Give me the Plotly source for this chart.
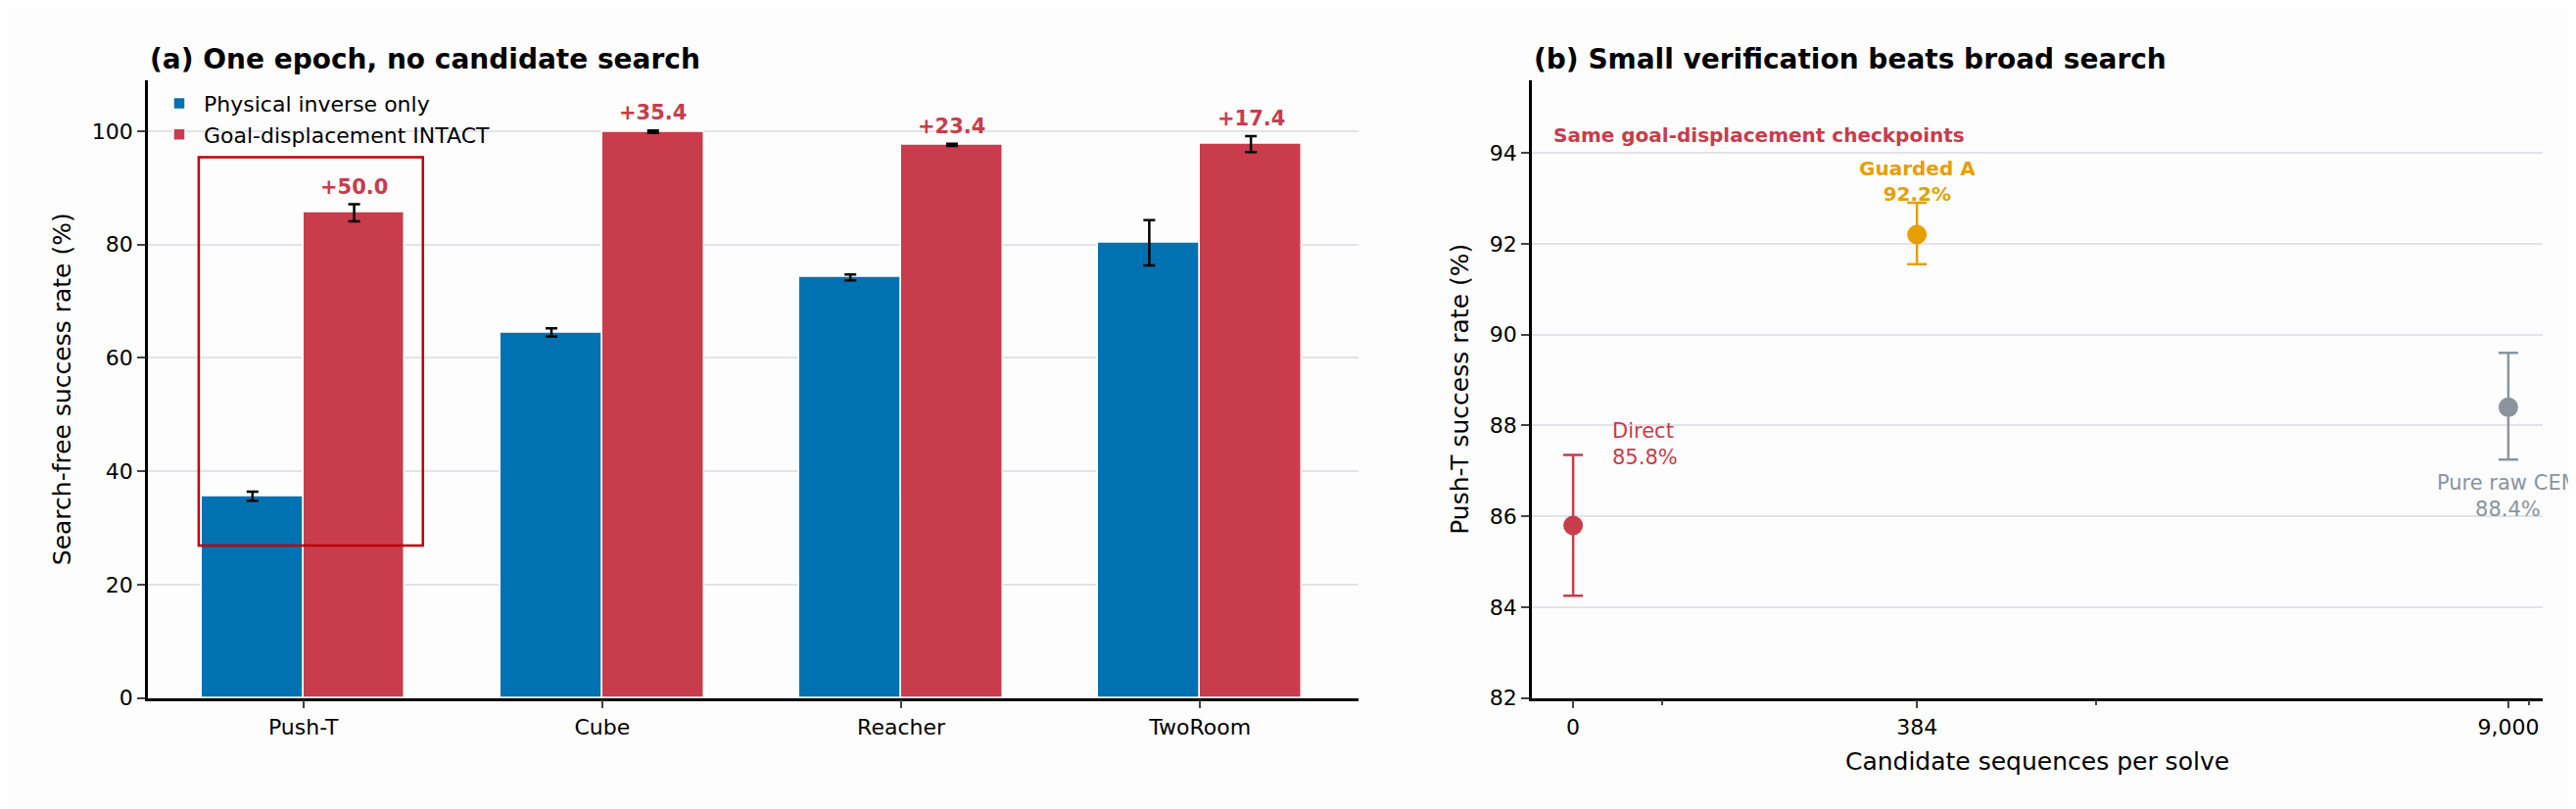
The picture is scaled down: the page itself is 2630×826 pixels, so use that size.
import plotly.graph_objects as go

tasks = ["Push-T", "Cube", "Reacher", "TwoRoom"]
physical = [35.6, 64.5, 74.2, 80.3]
physical_err = [0.8, 0.7, 0.5, 4.0]
intact = [85.6, 99.9, 97.6, 97.7]
intact_err = [1.5, 0.2, 0.2, 1.4]
gains = ["+50.0", "+35.4", "+23.4", "+17.4"]

cand_labels = ["0", "384", "9,000"]
cand_pos = [0, 1, 2.72]
methods = ["Direct", "Guarded A", "Pure raw CEM"]
rates = [85.8, 92.2, 88.4]
rate_lo = [1.55, 0.65, 1.15]
rate_hi = [1.55, 0.7, 1.2]

BLUE = "#0072b2"
RED = "#c83c4b"
ORANGE = "#e69f00"
GREY = "#8a949e"
FONT = "DejaVu Sans"

fig = go.Figure()
xi = list(range(len(tasks)))
fig.add_bar(x=[i - 0.17 for i in xi], y=physical, width=0.34, name="Physical inverse only",
            marker=dict(color=BLUE, line=dict(color="white", width=1.5)),
            error_y=dict(type="data", array=physical_err, color="black", thickness=2.5, width=6))
fig.add_bar(x=[i + 0.17 for i in xi], y=intact, width=0.34, name="Goal-displacement INTACT",
            marker=dict(color=RED, line=dict(color="white", width=1.5)),
            error_y=dict(type="data", array=intact_err, color="black", thickness=2.5, width=6))
for i, g in enumerate(gains):
    fig.add_annotation(x=i + 0.17, y=intact[i] + intact_err[i], text="<b>%s</b>" % g, showarrow=False,
                       yshift=18, font=dict(color=RED, size=21), xref="x", yref="y")
fig.add_shape(type="rect", x0=-0.35, x1=0.4, y0=26.9, y1=95.4, xref="x", yref="y",
              line=dict(color="#c00000", width=2.5))

colors = [RED, ORANGE, GREY]
for p, r, lo, hi, c in zip(cand_pos, rates, rate_lo, rate_hi, colors):
    fig.add_scatter(x=[p], y=[r], mode="markers", xaxis="x2", yaxis="y2", showlegend=False,
                    marker=dict(color=c, size=20),
                    error_y=dict(type="data", array=[hi], arrayminus=[lo], color=c, thickness=2.5, width=10))
fig.add_annotation(x=cand_pos[0], y=87.3, text="Direct<br>85.8%", xref="x2", yref="y2", showarrow=False,
                   xanchor="left", yanchor="bottom", align="left", xshift=38, yshift=-14,
                   font=dict(color=RED, size=21))
fig.add_annotation(x=cand_pos[1], y=92.9, text="<b>Guarded A<br>92.2%</b>", xref="x2", yref="y2",
                   showarrow=False, yanchor="bottom", borderpad=0, yshift=-4, font=dict(color=ORANGE, size=20))
fig.add_annotation(x=cand_pos[2], y=87.2, text="Pure raw CEM<br>88.4%", xref="x2", yref="y2",
                   showarrow=False, yanchor="top", align="center", yshift=-8, font=dict(color=GREY, size=21))
fig.add_annotation(x=-0.06, y=94.3, text="<b>Same goal-displacement checkpoints</b>", xref="x2", yref="y2",
                   showarrow=False, xanchor="left", borderpad=0, yshift=4, font=dict(color=RED, size=20))

fig.add_annotation(x=0, y=1.005, xref="x domain", yref="y domain", text="<b>(a) One epoch, no candidate search</b>",
                   showarrow=False, xanchor="left", yanchor="bottom", font=dict(size=28, color="black"))
fig.add_annotation(x=0, y=1.005, xref="x2 domain", yref="y2 domain",
                   text="<b>(b) Small verification beats broad search</b>",
                   showarrow=False, xanchor="left", yanchor="bottom", font=dict(size=28, color="black"))

axis_common = dict(showline=True, linecolor="black", linewidth=2.5, ticks="outside", ticklen=8, tickwidth=2,
                   tickfont=dict(size=22, color="black"), zeroline=False)
fig.update_layout(
    width=2630, height=826, barmode="overlay", bargap=0,
    paper_bgcolor="#fdfdfd", plot_bgcolor="#fdfdfd",
    font=dict(family=FONT, color="black"),
    margin=dict(l=0, r=0, t=0, b=0),
    legend=dict(x=150 / 2630, y=748 / 826, xanchor="left", yanchor="top", bgcolor="rgba(0,0,0,0)",
                font=dict(size=22), itemwidth=40, tracegroupgap=4),
    xaxis=dict(domain=[143 / 2630, 1379 / 2630], range=[-0.52, 3.53], tickvals=xi, ticktext=tasks,
               showgrid=False, **axis_common),
    yaxis=dict(domain=[110 / 826, 751 / 826], range=[0, 109], tickvals=[0, 20, 40, 60, 80, 100],
               showgrid=True, gridcolor="#e3e3e8", gridwidth=1.5,
               title=dict(text="Search-free success rate (%)", font=dict(size=25)), **axis_common),
    xaxis2=dict(domain=[1556 / 2630, 2588 / 2630], range=[-0.12, 2.82], tickvals=cand_pos, ticktext=cand_labels,
                anchor="y2", showgrid=False,
                minor=dict(tickvals=[0.26, 1.52, 2.78], ticks="outside", ticklen=5, tickwidth=1.5),
                title=dict(text="Candidate sequences per solve", font=dict(size=25)), **axis_common),
    yaxis2=dict(domain=[110 / 826, 751 / 826], range=[82, 95.6], tickvals=[82, 84, 86, 88, 90, 92, 94],
                anchor="x2", showgrid=True, gridcolor="#e3e3e8", gridwidth=1.5,
                title=dict(text="Push-T success rate (%)", font=dict(size=25)), **axis_common),
)
fig.write_html("out.html")
